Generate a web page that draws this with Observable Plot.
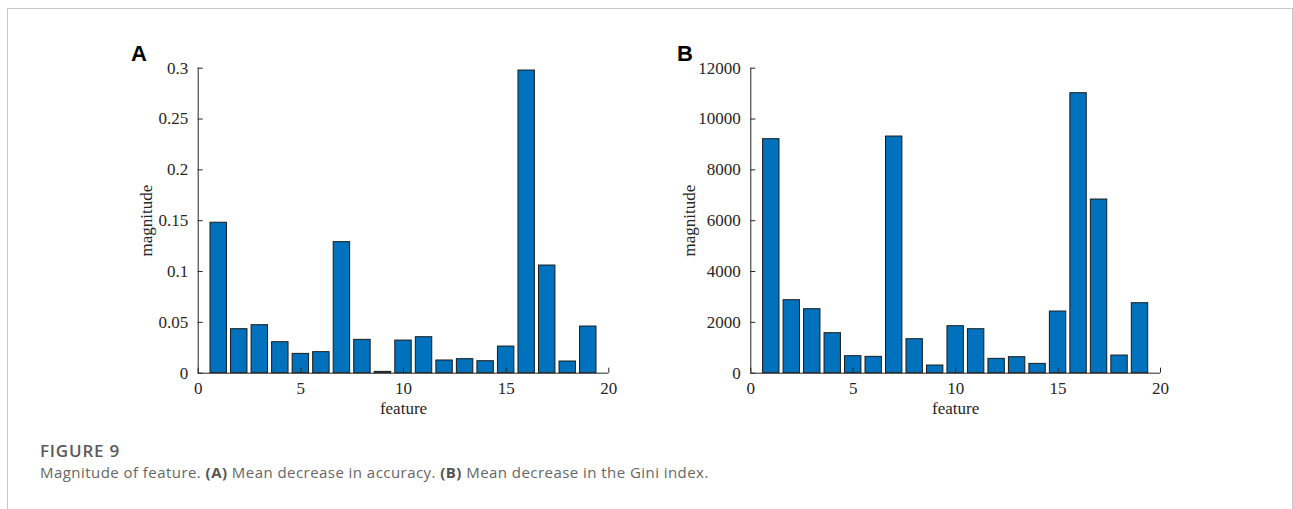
<!DOCTYPE html>
<html>
<head>
<meta charset="utf-8">
<script src="https://cdn.jsdelivr.net/npm/d3@7"></script>
<script src="https://cdn.jsdelivr.net/npm/@observablehq/plot@0.6"></script>
<style>
  html, body { margin: 0; padding: 0; background: #fff; }
  body { width: 1293px; height: 509px; overflow: hidden; position: relative; }
  #frame { position: absolute; left: 7px; top: 8px; width: 1286px; height: 520px; box-sizing: border-box;
           border-top: 1px solid #c9c9c9; border-left: 1px solid #c9c9c9; border-right: 1px solid #c9c9c9; }
  .panel { position: absolute; top: 30px; width: 520px; height: 400px; }
  #panelA { left: 120px; }
  #panelB { left: 670px; }
  .letter { position: absolute; top: 43px; font-family: "Liberation Sans", Arial, sans-serif; font-weight: bold;
            font-size: 22px; line-height: 22px; color: #000; }
  #figno { position: absolute; left: 40px; top: 442px; font-family: "Open Sans", sans-serif; font-weight: 600;
           font-size: 17px; line-height: 17px; color: #5a5a5a; letter-spacing: 0.8px; white-space: nowrap; }
  #caption { position: absolute; left: 40px; top: 465px; font-family: "Open Sans", sans-serif; font-weight: 400;
             font-size: 15px; line-height: 15px; color: #666; letter-spacing: 0.45px; white-space: nowrap; }
  #caption b { font-weight: 700; color: #555; }
</style>
</head>
<body>
<div id="frame"></div>
<div class="letter" style="left:131px">A</div>
<div class="letter" style="left:677px">B</div>
<div id="panelA" class="panel"></div>
<div id="panelB" class="panel"></div>
<div id="figno">FIGURE 9</div>
<div id="caption">Magnitude of feature. <b>(A)</b> Mean decrease in accuracy. <b>(B)</b> Mean decrease in the Gini index.</div>
<script>
// ---- data ----
const features = [1, 2, 3, 4, 5, 6, 7, 8, 9, 10, 11, 12, 13, 14, 15, 16, 17, 18, 19];
const accuracyDecrease = [0.148, 0.0433, 0.0472, 0.0305, 0.019, 0.0207, 0.1289, 0.0328, 0.0013, 0.0321,
                          0.0354, 0.0125, 0.0138, 0.0118, 0.0262, 0.2977, 0.1059, 0.0115, 0.0459];
const giniDecrease = [9207, 2872, 2518, 1574, 669, 643, 9311, 1338, 302, 1849,
                      1731, 564, 630, 367, 2426, 11016, 6833, 695, 2754];
const xTicks = [0, 5, 10, 15, 20];
const xTickLabels = ["0", "5", "10", "15", "20"];
const accTicks = [0, 0.05, 0.1, 0.15, 0.2, 0.25, 0.3];
const accTickLabels = ["0", "0.05", "0.1", "0.15", "0.2", "0.25", "0.3"];
const giniTicks = [0, 2000, 4000, 6000, 8000, 10000, 12000];
const giniTickLabels = ["0", "2000", "4000", "6000", "8000", "10000", "12000"];
const xLabel = "feature";
const yLabel = "magnitude";

function panel(values, yTicks, yTickLabels, marginLeft, marginRight, yLabelOffset) {
  const data = features.map((f, i) => ({feature: f, value: values[i]}));
  return Plot.plot({
    width: 520,
    height: 400,
    marginLeft,
    marginRight,
    marginTop: 37.7,
    marginBottom: 57.3,
    style: {
      fontFamily: "'Liberation Serif', 'Times New Roman', serif",
      fontSize: "17px",
      color: "#262626",
      background: "transparent",
      overflow: "visible"
    },
    x: {domain: [xTicks[0], xTicks[xTicks.length - 1]]},
    y: {domain: [yTicks[0], yTicks[yTicks.length - 1]]},
    marks: [
      Plot.rectY(data, {
        x1: d => d.feature - 0.4,
        x2: d => d.feature + 0.4,
        y: "value",
        fill: "#0072BD",
        stroke: "#1a1a1a",
        strokeWidth: 1
      }),
      Plot.ruleX([xTicks[0]], {stroke: "#262626"}),
      Plot.ruleY([yTicks[0]], {stroke: "#262626"}),
      Plot.axisY(yTicks, {
        tickSize: -5,
        tickPadding: 15,
        tickFormat: d => yTickLabels[yTicks.indexOf(d)],
        label: yLabel,
        labelAnchor: "center",
        labelOffset: yLabelOffset,
        labelArrow: "none"
      }),
      Plot.axisX(xTicks, {
        tickSize: -5,
        tickPadding: 14,
        tickFormat: d => xTickLabels[xTicks.indexOf(d)],
        label: xLabel,
        labelAnchor: "center",
        labelOffset: 41,
        labelArrow: "none"
      })
    ]
  });
}

document.getElementById("panelA").append(panel(accuracyDecrease, accTicks, accTickLabels, 77.7, 31.7, 58));
document.getElementById("panelB").append(panel(giniDecrease, giniTicks, giniTickLabels, 80.3, 30, 68));
</script>
</body>
</html>
